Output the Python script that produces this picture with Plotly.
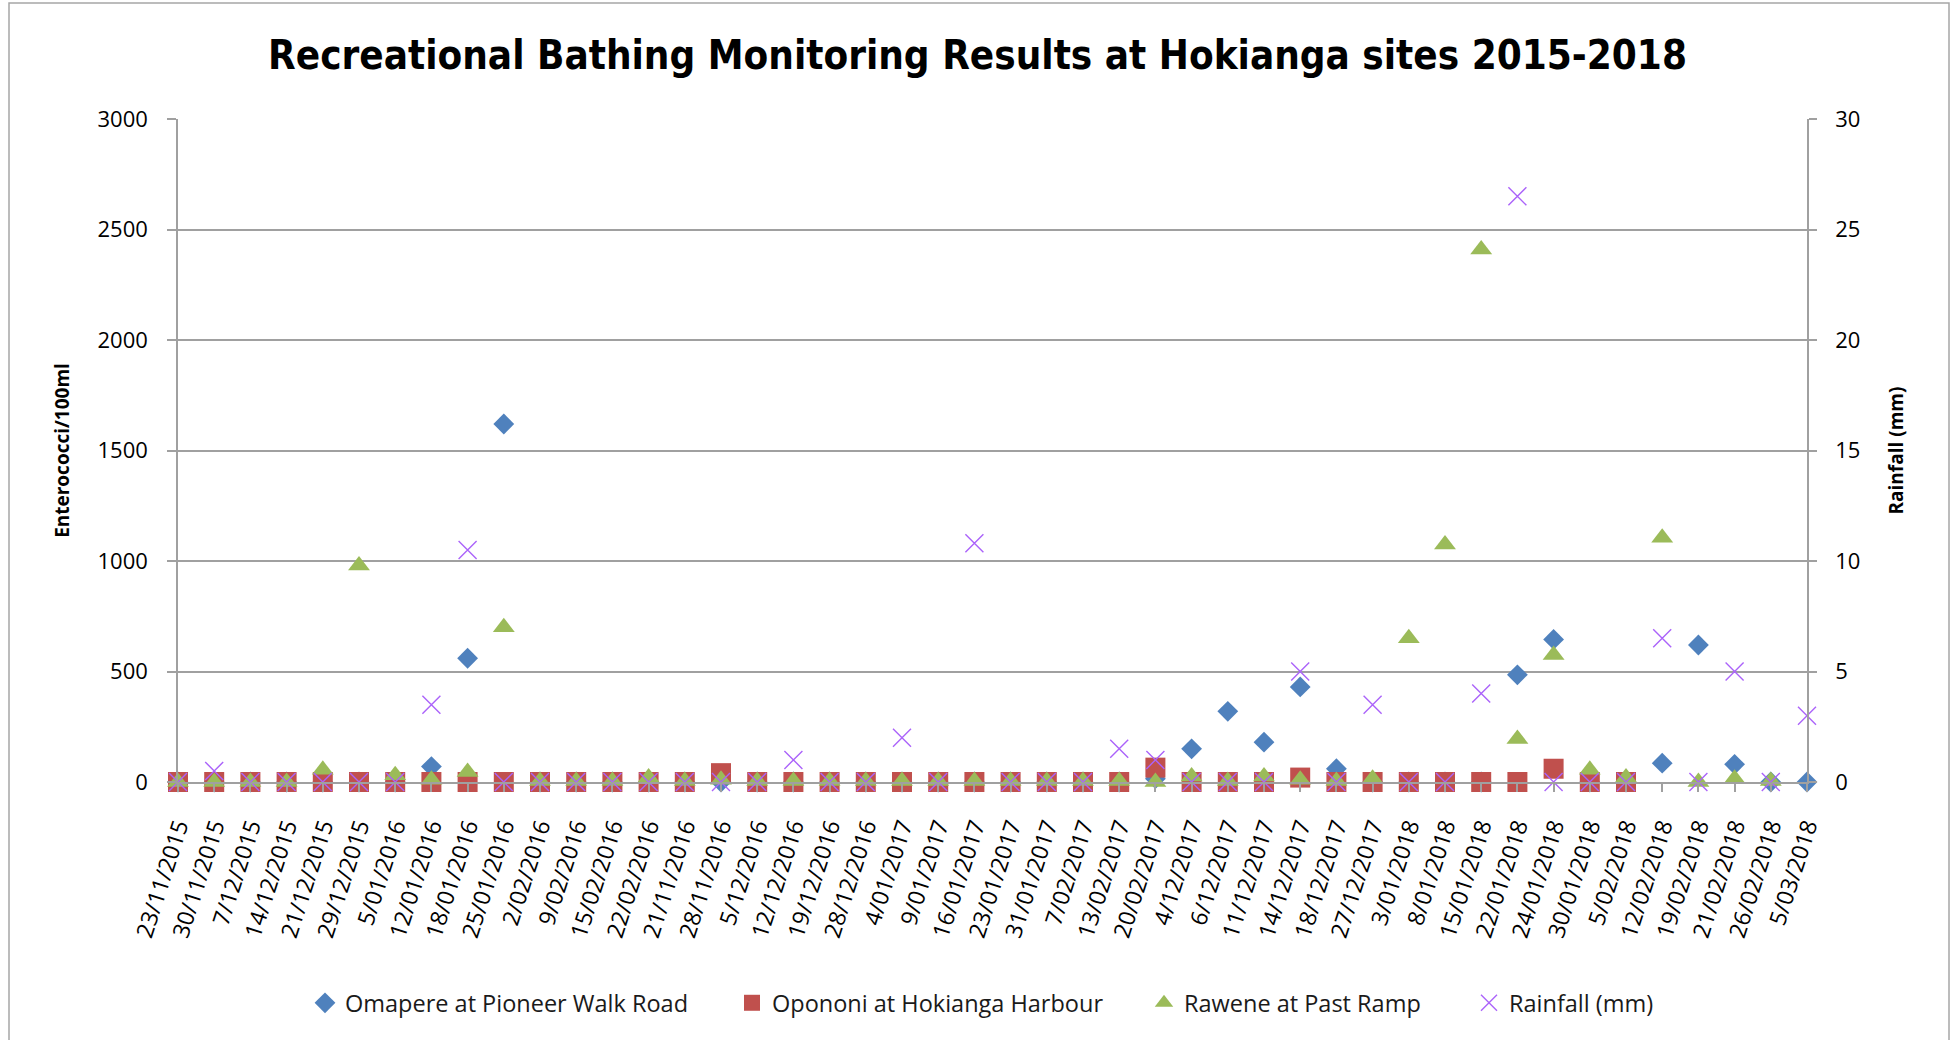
import plotly.graph_objects as go

dates = ["23/11/2015", "30/11/2015", "7/12/2015", "14/12/2015", "21/12/2015", "29/12/2015",
         "5/01/2016", "12/01/2016", "18/01/2016", "25/01/2016", "2/02/2016", "9/02/2016",
         "15/02/2016", "22/02/2016", "21/11/2016", "28/11/2016", "5/12/2016", "12/12/2016",
         "19/12/2016", "28/12/2016", "4/01/2017", "9/01/2017", "16/01/2017", "23/01/2017",
         "31/01/2017", "7/02/2017", "13/02/2017", "20/02/2017", "4/12/2017", "6/12/2017",
         "11/12/2017", "14/12/2017", "18/12/2017", "27/12/2017", "3/01/2018", "8/01/2018",
         "15/01/2018", "22/01/2018", "24/01/2018", "30/01/2018", "5/02/2018", "12/02/2018",
         "19/02/2018", "21/02/2018", "26/02/2018", "5/03/2018"]

omapere = [0, 0, 0, 0, 0, 0, 0, 70, 560, 1620, 0, 0, 0, 0, 0, 0,
           0, 0, 0, 0, 0, 0, 0, 0, 0, 0, 0, 15, 150, 320, 180, 430,
           60, 0, 0, 0, 0, 485, 645, 0, 0, 85, 620, 80, 0, 0]

opononi = [0, 0, 0, 0, 0, 0, 0, 0, 0, 0, 0, 0, 0, 0, 0, 40,
           0, 0, 0, 0, 0, 0, 0, 0, 0, 0, 0, 65, 0, 0, 0, 20,
           0, 0, 0, 0, 0, 0, 60, 0, 0, None, None, None, None, None]

rawene = [0, 0, 0, 0, 55, 980, 30, 10, 45, 700, 5, 5, 5, 20, 5, 10,
          5, 5, 5, 5, 5, 5, 5, 5, 5, 5, 5, 0, 25, 5, 25, 10,
          5, 15, 650, 1075, 2410, 195, 575, 55, 20, 1105, 0, 15, 5, None]

rainfall = [0, 0.5, 0, 0, 0, 0, 0, 3.5, 10.5, 0, 0, 0, 0, 0, 0, 0,
            0, 1.0, 0, 0, 2.0, 0, 10.8, 0, 0, 0, 1.5, 1.0, 0, 0, 0, 5.0,
            0, 3.5, 0, 0, 4.0, 26.5, 0, 0, 0, 6.5, 0, 5.0, 0, 3.0]

names = ["Omapere at Pioneer Walk Road", "Opononi at Hokianga Harbour",
         "Rawene at Past Ramp", "Rainfall (mm)"]

W, H = 1955, 1040
L, R, T, B = 178, 1807, 119, 782
def px(x):
    return (x - L) / (R - L)
def py(y):
    return (B - y) / (B - T)

FONT = "Open Sans, DejaVu Sans, sans-serif"
GRID = "#a0a0a0"

fig = go.Figure()
fig.add_trace(go.Scatter(x=dates, y=omapere, mode="markers", name=names[0],
                         marker=dict(symbol="diamond", size=16, color="#4F81BD"),
                         cliponaxis=False, legend="legend"))
fig.add_trace(go.Scatter(x=dates, y=opononi, mode="markers", name=names[1],
                         marker=dict(symbol="square", size=20, color="#C0504D"),
                         cliponaxis=False, legend="legend2"))
fig.add_trace(go.Scatter(x=dates, y=rawene, mode="markers", name=names[2],
                         marker=dict(symbol="triangle-up", size=19, color="#9BBB59"),
                         cliponaxis=False, legend="legend3"))
fig.add_trace(go.Scatter(x=dates, y=rainfall, mode="markers", name=names[3], yaxis="y2",
                         marker=dict(symbol="x-thin-open", size=18,
                                     line=dict(color="#8E78B4", width=1.4)),
                         cliponaxis=False, legend="legend4"))

leg_common = dict(orientation="h", yanchor="middle", xanchor="left",
                  font=dict(family=FONT, size=23.5, color="#1a1a1a"),
                  bgcolor="rgba(0,0,0,0)", borderwidth=0)
legy = py(1003)
fig.update_layout(
    legend=dict(x=px(325 - 20), y=legy, **leg_common),
    legend2=dict(x=px(752 - 20), y=legy, **leg_common),
    legend3=dict(x=px(1164 - 20), y=legy, **leg_common),
    legend4=dict(x=px(1489 - 20), y=legy, **leg_common),
)

fig.update_layout(
    width=W, height=H,
    margin=dict(l=L, r=W - R, t=T, b=H - B, pad=0, autoexpand=False),
    paper_bgcolor="white", plot_bgcolor="white",
    title=dict(text="<b>Recreational Bathing Monitoring Results at Hokianga sites 2015-2018</b>",
               x=0.5, xanchor="center", xref="container", y=1 - 55 / H, yanchor="middle",
               yref="container",
               font=dict(family="Liberation Sans Narrow, DejaVu Sans Condensed, sans-serif",
                         size=40, color="black")),
    xaxis=dict(type="category", range=[0, len(dates) - 1], showgrid=False,
               showline=True, linecolor=GRID, linewidth=1.5, automargin=False,
               ticks="outside", ticklen=8, tickcolor=GRID, tickwidth=1.5,
               ticklabelstandoff=12,
               tickangle=-72, tickfont=dict(family=FONT, size=23, color="black"),
               zeroline=False),
    yaxis=dict(range=[0, 3000], dtick=500, showgrid=True, gridcolor=GRID, gridwidth=1.5,
               showline=True, linecolor=GRID, linewidth=1.5, automargin=False,
               ticks="outside", ticklen=9, tickcolor=GRID, tickwidth=1.5,
               ticklabelstandoff=15,
               tickfont=dict(family=FONT, size=22, color="black"), zeroline=False,
               title=dict(text="<b>Enterococci/100ml</b>", standoff=23,
                          font=dict(family=FONT, size=19, color="black"))),
    yaxis2=dict(range=[0, 30], dtick=5, overlaying="y", side="right", showgrid=False,
                showline=True, linecolor=GRID, linewidth=1.5, automargin=False,
                ticks="outside", ticklen=8, tickcolor=GRID, tickwidth=1.5,
                ticklabelstandoff=14,
                tickfont=dict(family=FONT, size=22, color="black"), zeroline=False,
                title=dict(text="<b>Rainfall (mm)</b>", standoff=30,
                           font=dict(family=FONT, size=19, color="black"))),
    showlegend=True,
)

fig.add_shape(type="rect", xref="paper", yref="paper",
              x0=px(9), x1=px(1949), y0=py(1050), y1=py(3),
              line=dict(color="#a6a6a6", width=1.5), fillcolor="rgba(0,0,0,0)", layer="below")

fig.write_html("out.html", config={"displayModeBar": False},
               post_script="document.body.style.margin='0';document.body.style.overflow='hidden';")
